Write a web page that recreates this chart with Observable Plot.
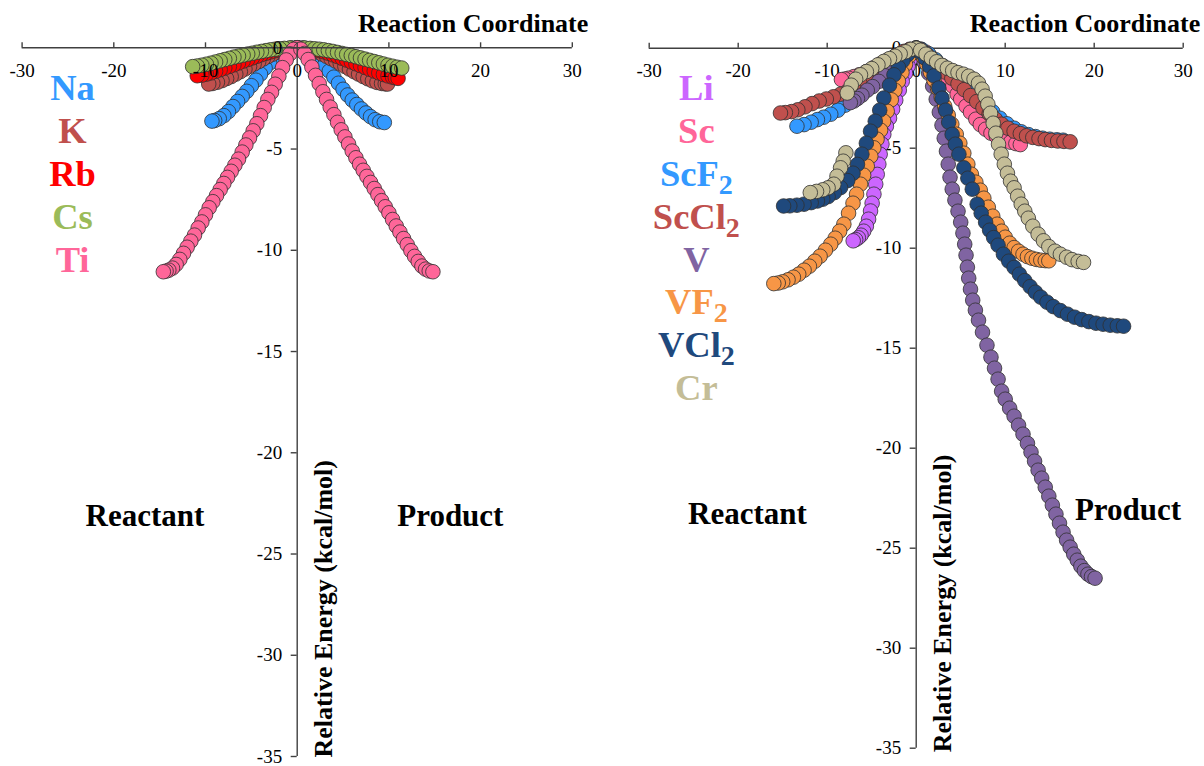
<!DOCTYPE html>
<html><head><meta charset="utf-8">
<script src="https://cdn.jsdelivr.net/npm/d3@7"></script>
<script src="https://cdn.jsdelivr.net/npm/@observablehq/plot@0.6"></script>
<style>
body{margin:0;background:#fff;}
#wrap{display:flex;width:1204px;height:766px;overflow:hidden;background:#fff;}
svg{overflow:visible;}
</style></head><body><div id="wrap"></div>
<script>
// ---------- shared axis ticks ----------
const xTicks = [-30, -20, -10, 0, 10, 20, 30];
const yTicks = [0, -5, -10, -15, -20, -25, -30, -35];

// ---------- left panel ----------
const leftNames  = ["Na", "K", "Rb", "Cs", "Ti"];
const leftColors = ["#3399ff", "#c0504d", "#ff0000", "#9bbb59", "#ff6699"];

const naLeft = [[0,0],[-0.5,-0.02],[-1,-0.08],[-1.5,-0.18],[-2,-0.33],[-2.5,-0.52],[-3,-0.75],[-3.5,-1.0],[-4,-1.3],[-4.5,-1.6],[-5,-1.87],[-5.5,-2.15],[-6,-2.4],[-6.5,-2.65],[-7,-2.9],[-7.5,-3.15],[-8,-3.35],[-8.5,-3.5],[-9,-3.59],[-9.3,-3.62]];
const naRight = [[0.5,-0.02],[1,-0.08],[1.5,-0.2],[2,-0.36],[2.5,-0.58],[3,-0.85],[3.5,-1.15],[4,-1.45],[4.5,-1.75],[5,-2.05],[5.5,-2.33],[6,-2.58],[6.5,-2.8],[7,-3.02],[7.5,-3.22],[8,-3.4],[8.5,-3.55],[9,-3.65],[9.5,-3.69]];

const kLeft = [[0,0],[-0.6,-0.02],[-1.2,-0.07],[-1.7,-0.14],[-2.2,-0.22],[-2.7,-0.32],[-3.2,-0.43],[-3.7,-0.55],[-4.2,-0.68],[-4.7,-0.8],[-5.2,-0.92],[-5.7,-1.05],[-6.2,-1.18],[-6.7,-1.3],[-7.2,-1.42],[-7.7,-1.52],[-8.2,-1.62],[-8.7,-1.7],[-9.2,-1.76],[-9.65,-1.79]];
const kRight = [[0.6,-0.02],[1.2,-0.07],[1.7,-0.13],[2.2,-0.21],[2.7,-0.31],[3.2,-0.42],[3.7,-0.54],[4.2,-0.66],[4.7,-0.79],[5.2,-0.92],[5.7,-1.05],[6.2,-1.18],[6.7,-1.3],[7.2,-1.42],[7.7,-1.53],[8.2,-1.63],[8.7,-1.71],[9.2,-1.76],[9.6,-1.78],[9.85,-1.79]];

const rbLeft = [[0,0],[-0.8,-0.02],[-1.4,-0.05],[-1.9,-0.09],[-2.4,-0.14],[-2.9,-0.2],[-3.4,-0.27],[-3.9,-0.34],[-4.4,-0.42],[-4.9,-0.5],[-5.4,-0.58],[-5.9,-0.66],[-6.4,-0.75],[-6.9,-0.84],[-7.4,-0.92],[-7.9,-1.0],[-8.4,-1.08],[-8.9,-1.16],[-9.4,-1.24],[-9.9,-1.3],[-10.4,-1.35],[-10.9,-1.38]];
const rbRight = [[0.8,-0.02],[1.4,-0.05],[1.9,-0.09],[2.4,-0.14],[2.9,-0.2],[3.4,-0.27],[3.9,-0.35],[4.4,-0.43],[4.9,-0.52],[5.4,-0.61],[5.9,-0.7],[6.4,-0.79],[6.9,-0.88],[7.4,-0.97],[7.9,-1.06],[8.4,-1.15],[8.9,-1.24],[9.4,-1.32],[9.9,-1.39],[10.4,-1.45],[10.7,-1.48],[11.0,-1.51]];

const csLeft = [[0,0],[-0.8,-0.01],[-1.4,-0.03],[-1.9,-0.05],[-2.4,-0.07],[-2.9,-0.1],[-3.4,-0.14],[-3.9,-0.18],[-4.4,-0.22],[-4.9,-0.27],[-5.4,-0.31],[-5.9,-0.36],[-6.4,-0.41],[-6.9,-0.46],[-7.4,-0.52],[-7.9,-0.58],[-8.4,-0.64],[-8.9,-0.7],[-9.4,-0.76],[-9.9,-0.81],[-10.4,-0.86],[-10.9,-0.9],[-11.4,-0.93]];
const csRight = [[0.8,-0.01],[1.4,-0.03],[1.9,-0.05],[2.4,-0.07],[2.9,-0.1],[3.4,-0.14],[3.9,-0.18],[4.4,-0.23],[4.9,-0.28],[5.4,-0.33],[5.9,-0.38],[6.4,-0.44],[6.9,-0.5],[7.4,-0.56],[7.9,-0.62],[8.4,-0.68],[8.9,-0.74],[9.4,-0.8],[9.9,-0.86],[10.4,-0.91],[10.9,-0.96],[11.4,-1.0]];

const tiLeft = [[0,0],[-0.4,-0.08],[-0.8,-0.3],[-1.2,-0.6],[-1.6,-0.98],[-2.0,-1.4],[-2.4,-1.8],[-2.8,-2.2],[-3.2,-2.55],[-3.6,-2.95],[-4.0,-3.35],[-4.4,-3.75],[-4.8,-4.1],[-5.2,-4.45],[-5.6,-4.8],[-6.0,-5.15],[-6.4,-5.5],[-6.8,-5.8],[-7.2,-6.1],[-7.6,-6.4],[-8.0,-6.7],[-8.4,-7.0],[-8.8,-7.3],[-9.2,-7.6],[-9.6,-7.9],[-10.0,-8.25],[-10.4,-8.6],[-10.8,-8.9],[-11.2,-9.25],[-11.6,-9.55],[-12.0,-9.85],[-12.4,-10.15],[-12.8,-10.45],[-13.2,-10.7],[-13.6,-10.88],[-14.0,-10.98],[-14.3,-11.03],[-14.6,-11.06]];
const tiRight = [[0.4,-0.07],[0.8,-0.28],[1.2,-0.58],[1.6,-0.95],[2.0,-1.36],[2.4,-1.77],[2.8,-2.17],[3.2,-2.55],[3.6,-2.93],[4.0,-3.3],[4.4,-3.68],[4.8,-4.05],[5.2,-4.4],[5.6,-4.75],[6.0,-5.1],[6.4,-5.43],[6.8,-5.75],[7.2,-6.05],[7.6,-6.35],[8.0,-6.65],[8.4,-6.95],[8.8,-7.25],[9.2,-7.55],[9.6,-7.85],[10.0,-8.15],[10.4,-8.48],[10.8,-8.8],[11.2,-9.1],[11.6,-9.42],[12.0,-9.72],[12.4,-10.02],[12.8,-10.3],[13.2,-10.55],[13.6,-10.78],[14.0,-10.93],[14.4,-11.02],[14.8,-11.06]];

// ---------- right panel ----------
const rightNames  = ["Li", "Sc", "ScF2", "ScCl2", "V", "VF2", "VCl2", "Cr"];
const rightColors = ["#cc66ff", "#ff6699", "#3399ff", "#c0504d", "#8064a2", "#f79646", "#1f497d", "#c4bd97"];

const liLeft = [[0,0],[-0.3,-0.25],[-0.6,-0.55],[-0.9,-0.9],[-1.2,-1.25],[-1.57,-1.66],[-1.9,-2.1],[-2.3,-2.6],[-2.65,-3.05],[-3.0,-3.5],[-3.35,-3.9],[-3.64,-4.31],[-3.85,-4.8],[-4.05,-5.3],[-4.2,-5.8],[-4.38,-6.31],[-4.55,-6.8],[-4.75,-7.3],[-4.95,-7.75],[-5.13,-8.14],[-5.35,-8.55],[-5.6,-8.9],[-5.9,-9.15],[-6.2,-9.35],[-6.5,-9.48],[-6.8,-9.57],[-7.08,-9.63]];
const liRight = [];

const scLeft = [[0,0],[-0.8,-0.08],[-1.6,-0.22],[-2.4,-0.4],[-3.2,-0.58],[-4.0,-0.78],[-4.8,-0.98],[-5.6,-1.17],[-6.4,-1.33],[-7.0,-1.42],[-7.6,-1.5],[-8.0,-1.54],[-8.4,-1.57]];
const scRight = [[0.5,-0.05],[1.1,-0.2],[1.7,-0.45],[2.3,-0.75],[2.9,-1.1],[3.5,-1.5],[4.1,-1.9],[4.6,-2.3],[5.0,-2.55],[5.6,-2.9],[6.1,-3.2],[6.7,-3.55],[7.2,-3.82],[7.8,-4.05],[8.4,-4.25],[9.0,-4.4],[9.5,-4.5],[10.1,-4.62],[10.6,-4.7],[11.2,-4.77],[11.7,-4.82]];

const scf2Left = [[0,0],[-0.8,-0.18],[-1.6,-0.4],[-2.4,-0.65],[-3.2,-0.95],[-4.0,-1.3],[-4.8,-1.63],[-5.6,-1.95],[-6.4,-2.27],[-7.2,-2.57],[-8.0,-2.85],[-8.8,-3.1],[-9.6,-3.3],[-10.4,-3.45],[-11.1,-3.57],[-11.8,-3.7],[-12.6,-3.82],[-13.4,-3.9]];
const scf2Right = [[0.6,-0.06],[1.4,-0.28],[2.2,-0.58],[3.0,-0.88],[3.8,-1.2],[4.6,-1.52],[5.4,-1.85],[6.2,-2.18],[7.0,-2.5],[7.8,-2.85],[8.6,-3.18],[9.4,-3.5],[10.2,-3.78],[11.0,-4.0],[11.8,-4.18],[12.6,-4.32],[13.4,-4.42],[14.2,-4.5],[15.0,-4.55],[15.8,-4.58],[16.5,-4.6]];

const sccl2Left = [[0,0],[-0.7,-0.05],[-1.4,-0.16],[-2.1,-0.33],[-2.8,-0.55],[-3.5,-0.8],[-4.2,-1.05],[-4.9,-1.3],[-5.6,-1.55],[-6.3,-1.78],[-7.0,-1.98],[-7.75,-2.16],[-8.5,-2.3],[-9.3,-2.43],[-10.1,-2.54],[-10.9,-2.64],[-11.7,-2.77],[-12.5,-2.93],[-13.3,-3.08],[-14.0,-3.17],[-14.7,-3.22],[-15.25,-3.24]];
const sccl2Right = [[0.5,-0.08],[1.2,-0.3],[1.9,-0.6],[2.6,-0.9],[3.3,-1.2],[4.0,-1.5],[4.7,-1.78],[5.4,-2.07],[6.1,-2.37],[6.8,-2.67],[7.5,-2.98],[8.2,-3.27],[8.9,-3.55],[9.6,-3.8],[10.3,-4.0],[11.0,-4.15],[11.7,-4.27],[12.4,-4.38],[13.1,-4.46],[13.8,-4.52],[14.5,-4.57],[15.2,-4.61],[15.9,-4.64],[16.6,-4.66],[17.3,-4.68]];

const vLeft = [[0,0],[-0.7,-0.2],[-1.4,-0.48],[-2.1,-0.78],[-2.8,-1.08],[-3.5,-1.38],[-4.2,-1.66],[-4.9,-1.92],[-5.5,-2.1],[-6.1,-2.35],[-6.6,-2.52],[-7.0,-2.64],[-7.4,-2.72]];
const vRight = [[0.4,-0.25],[0.9,-0.7],[1.4,-1.25],[1.85,-1.9],[2.25,-2.55],[2.6,-3.2],[2.9,-3.85],[3.15,-4.5],[3.4,-5.15],[3.6,-5.8],[3.8,-6.45],[4.05,-7.05],[4.35,-7.6],[4.7,-8.15],[5.0,-8.7],[5.25,-9.25],[5.45,-9.8],[5.6,-10.35],[5.75,-10.95],[5.9,-11.5],[6.1,-12.05],[6.35,-12.6],[6.65,-13.1],[7.0,-13.6],[7.45,-14.2],[7.95,-14.85],[8.4,-15.45],[8.8,-16.0],[9.2,-16.55],[9.6,-17.15],[10.0,-17.55],[10.5,-18.0],[11.0,-18.4],[11.5,-18.85],[12.0,-19.3],[12.5,-19.76],[12.9,-20.2],[13.3,-20.65],[13.7,-21.1],[14.1,-21.5],[14.5,-21.95],[14.9,-22.4],[15.3,-22.85],[15.7,-23.3],[16.1,-23.75],[16.5,-24.2],[16.9,-24.6],[17.3,-24.95],[17.7,-25.3],[18.1,-25.6],[18.5,-25.9],[18.9,-26.12],[19.3,-26.3],[19.7,-26.42],[20.1,-26.5]];

const vf2Left = [[0,0],[-0.4,-0.12],[-0.8,-0.4],[-1.2,-0.8],[-1.6,-1.22],[-2.0,-1.65],[-2.4,-2.1],[-2.8,-2.58],[-3.26,-3.15],[-3.65,-3.65],[-4.0,-4.1],[-4.4,-4.55],[-4.76,-4.98],[-5.1,-5.4],[-5.5,-5.9],[-5.9,-6.35],[-6.26,-6.8],[-6.7,-7.3],[-7.1,-7.75],[-7.6,-8.25],[-8.13,-8.8],[-8.6,-9.15],[-9.1,-9.5],[-9.6,-9.8],[-10.2,-10.1],[-10.8,-10.4],[-11.4,-10.65],[-12.0,-10.9],[-12.6,-11.1],[-13.2,-11.3],[-13.8,-11.45],[-14.4,-11.58],[-15.0,-11.68],[-15.5,-11.74],[-16.0,-11.77]];
const vf2Right = [[0.4,-0.15],[0.8,-0.45],[1.2,-0.8],[1.6,-1.2],[2.0,-1.6],[2.4,-2.0],[2.8,-2.45],[3.2,-2.9],[3.6,-3.35],[4.0,-3.8],[4.5,-4.3],[4.9,-4.75],[5.35,-5.25],[5.8,-5.8],[6.2,-6.3],[6.7,-6.7],[7.2,-7.1],[7.6,-7.5],[8.1,-7.95],[8.6,-8.4],[9.1,-8.8],[9.6,-9.15],[10.0,-9.45],[10.5,-9.75],[11.0,-9.97],[11.5,-10.15],[12.0,-10.3],[12.5,-10.42],[13.0,-10.5],[13.5,-10.56],[14.0,-10.6],[14.5,-10.62],[14.9,-10.63]];

const vcl2Left = [[0,0],[-0.5,-0.12],[-1.0,-0.33],[-1.5,-0.62],[-2.0,-0.95],[-2.5,-1.33],[-3.0,-1.85],[-3.64,-2.49],[-4.1,-3.1],[-4.6,-3.65],[-5.13,-4.15],[-5.6,-4.75],[-6.1,-5.3],[-6.6,-5.81],[-7.1,-6.25],[-7.7,-6.62],[-8.5,-6.97],[-9.2,-7.22],[-9.9,-7.42],[-10.5,-7.55],[-11.1,-7.64],[-11.8,-7.72],[-12.6,-7.8],[-13.4,-7.85],[-14.2,-7.88],[-14.9,-7.89]];
const vcl2Right = [[0.5,-0.2],[1.0,-0.5],[1.5,-0.9],[2.0,-1.38],[2.54,-1.99],[2.9,-2.5],[3.3,-3.1],[3.65,-3.7],[4.04,-4.31],[4.4,-4.8],[4.8,-5.3],[5.35,-5.98],[5.8,-6.5],[6.3,-7.05],[6.85,-7.8],[7.3,-8.25],[7.8,-8.7],[8.25,-9.1],[8.7,-9.47],[9.2,-9.85],[9.8,-10.3],[10.4,-10.65],[11.0,-10.96],[11.6,-11.3],[12.2,-11.62],[12.8,-11.92],[13.4,-12.2],[14.0,-12.45],[14.7,-12.7],[15.4,-12.92],[16.2,-13.12],[17.0,-13.3],[17.8,-13.45],[18.6,-13.57],[19.4,-13.67],[20.2,-13.75],[21.0,-13.8],[21.8,-13.85],[22.6,-13.88],[23.3,-13.9]];

const crLeft = [[0,0],[-0.6,-0.06],[-1.2,-0.18],[-1.8,-0.28],[-2.4,-0.4],[-3.0,-0.52],[-3.64,-0.66],[-4.3,-0.83],[-5.0,-1.02],[-5.6,-1.17],[-6.26,-1.33],[-6.8,-1.55],[-7.3,-1.85],[-7.75,-2.24],[-7.9,-5.23],[-8.2,-5.65],[-8.5,-5.98],[-8.9,-6.4],[-9.26,-6.8],[-9.9,-6.98],[-10.5,-7.08],[-11.2,-7.16],[-11.9,-7.22]];
const crRight = [[0.5,-0.1],[1.1,-0.3],[1.7,-0.5],[2.3,-0.68],[2.9,-0.86],[3.5,-1.0],[4.1,-1.12],[4.7,-1.22],[5.3,-1.3],[5.9,-1.4],[6.5,-1.55],[7.0,-1.75],[7.4,-2.05],[7.75,-2.4],[8.05,-2.8],[8.35,-3.25],[8.65,-3.75],[8.95,-4.25],[9.25,-4.8],[9.55,-5.3],[9.9,-5.8],[10.25,-6.25],[10.6,-6.65],[11.0,-6.98],[11.4,-7.4],[11.8,-7.8],[12.2,-8.15],[12.6,-8.5],[13.1,-8.9],[13.7,-9.3],[14.3,-9.63],[14.9,-9.92],[15.6,-10.15],[16.2,-10.3],[16.9,-10.45],[17.5,-10.57],[18.2,-10.66],[18.8,-10.71]];

// ---------- texts ----------
const xTitle = "Reaction Coordinate";
const yTitle = "Relative Energy (kcal/mol)";
const reactantLabel = "Reactant";
const productLabel = "Product";

// ---------- drawing ----------
const SERIF = '"Liberation Serif","Times New Roman",serif';
const AX = "#404040";
const W = 602, H = 766;

function panel(cfg) {
  const pxX = (W - cfg.ml - cfg.mr) / 60;
  const pxY = (H - cfg.mt - cfg.mb) / 35;
  const rows = [];
  cfg.series.forEach((s, i) => {
    for (const [x, y] of s.left) rows.push({name: cfg.names[i], x, y});
    for (const [x, y] of s.right) rows.push({name: cfg.names[i], x, y});
  });
  const legend = cfg.names.map((name, i) => ({name, i}));

  const axisLines = [
    Plot.ruleY([0], {x1: -30, x2: 30, stroke: AX, strokeWidth: 1.4}),
    Plot.ruleX(xTicks, {x: d => d, y1: 0, y2: 5 / pxY, stroke: AX, strokeWidth: 1.4}),
    Plot.ruleX([0], {y1: 0, y2: -35, stroke: AX, strokeWidth: 1.4}),
    Plot.ruleY(yTicks, {y: d => d, x1: 0, x2: -6 / pxX, stroke: AX, strokeWidth: 1.4})
  ];
  const dots = Plot.dot(rows, {x: "x", y: "y", fill: "name", r: 7.3, stroke: "#303030", strokeWidth: 0.8});
  const tickLabels = [
    Plot.text(xTicks, {x: d => d, y: 0, text: d => String(d), dy: 23, fontSize: 19, fill: "#000"}),
    Plot.text(yTicks, {x: 0, y: d => d, text: d => String(d), dx: -15, textAnchor: "end", fontSize: 19, fill: "#000"})
  ];
  const texts = [
    Plot.text([xTitle], {x: 30, y: 0, text: d => d, dx: cfg.titleDx, dy: -24.6, textAnchor: "end", fontSize: 26, fontWeight: "bold", fill: "#000"}),
    Plot.text([yTitle], {x: 0, y: -35, text: d => d, rotate: -90, textAnchor: "start", dx: 26, dy: cfg.yTitleDy, fontSize: 26, fontWeight: "bold", fill: "#000"}),
    Plot.text([reactantLabel], {x: cfg.reactant[0], y: cfg.reactant[1], text: d => d, fontSize: 31, fontWeight: "bold", fill: "#000"}),
    Plot.text([productLabel], {x: cfg.product[0], y: cfg.product[1], text: d => d, fontSize: 31, fontWeight: "bold", fill: "#000"}),
    Plot.text(legend, {x: cfg.legX, y: d => cfg.legY0 - d.i * cfg.legStep, text: d => d.name, fill: d => d.name, fontSize: 36.5, fontWeight: "bold"})
  ];
  const marks = cfg.axesOnTop
    ? [dots, ...axisLines, ...tickLabels, ...texts]
    : [...axisLines, ...tickLabels, dots, ...texts];

  const svg = Plot.plot({
    width: W, height: H,
    marginLeft: cfg.ml, marginRight: cfg.mr, marginTop: cfg.mt, marginBottom: cfg.mb,
    x: {domain: [-30, 30], axis: null},
    y: {domain: [-35, 0], axis: null},
    color: {domain: cfg.names, range: cfg.colors},
    style: {fontFamily: SERIF, background: "white", overflow: "visible"},
    marks
  });
  // chemical subscripts
  svg.querySelectorAll("text").forEach(t => {
    const m = t.textContent.match(/^(Sc|V)(F|Cl)2$/);
    if (m && t.children.length === 0) {
      t.textContent = m[1] + m[2];
      const ts = document.createElementNS("http://www.w3.org/2000/svg", "tspan");
      ts.setAttribute("font-size", "28");
      ts.setAttribute("dy", "8");
      ts.textContent = "2";
      t.appendChild(ts);
    }
  });
  return svg;
}

const wrap = document.getElementById("wrap");
wrap.appendChild(panel({
  names: leftNames, colors: leftColors,
  series: [
    {left: naLeft, right: naRight}, {left: kLeft, right: kRight}, {left: rbLeft, right: rbRight},
    {left: csLeft, right: csRight}, {left: tiLeft, right: tiRight}
  ],
  ml: 21.6, mr: 30.2, mt: 47.3, mb: 10,
  titleDx: 16, yTitleDy: 1,
  reactant: [-16.6, -23.15], product: [16.7, -23.15],
  legX: -24.5, legY0: -2.02, legStep: 2.12,
  axesOnTop: true
}));
wrap.appendChild(panel({
  names: rightNames, colors: rightColors,
  series: [
    {left: liLeft, right: liRight}, {left: scLeft, right: scRight}, {left: scf2Left, right: scf2Right},
    {left: sccl2Left, right: sccl2Right}, {left: vLeft, right: vRight}, {left: vf2Left, right: vf2Right},
    {left: vcl2Left, right: vcl2Right}, {left: crLeft, right: crRight}
  ],
  ml: 46.7, mr: 21.3, mt: 47.7, mb: 18.3,
  titleDx: 17, yTitleDy: 4,
  reactant: [-18.96, -23.27], product: [23.8, -23.08],
  legX: -24.7, legY0: -2.03, legStep: 2.14,
  axesOnTop: false
}));
</script>
</body></html>
